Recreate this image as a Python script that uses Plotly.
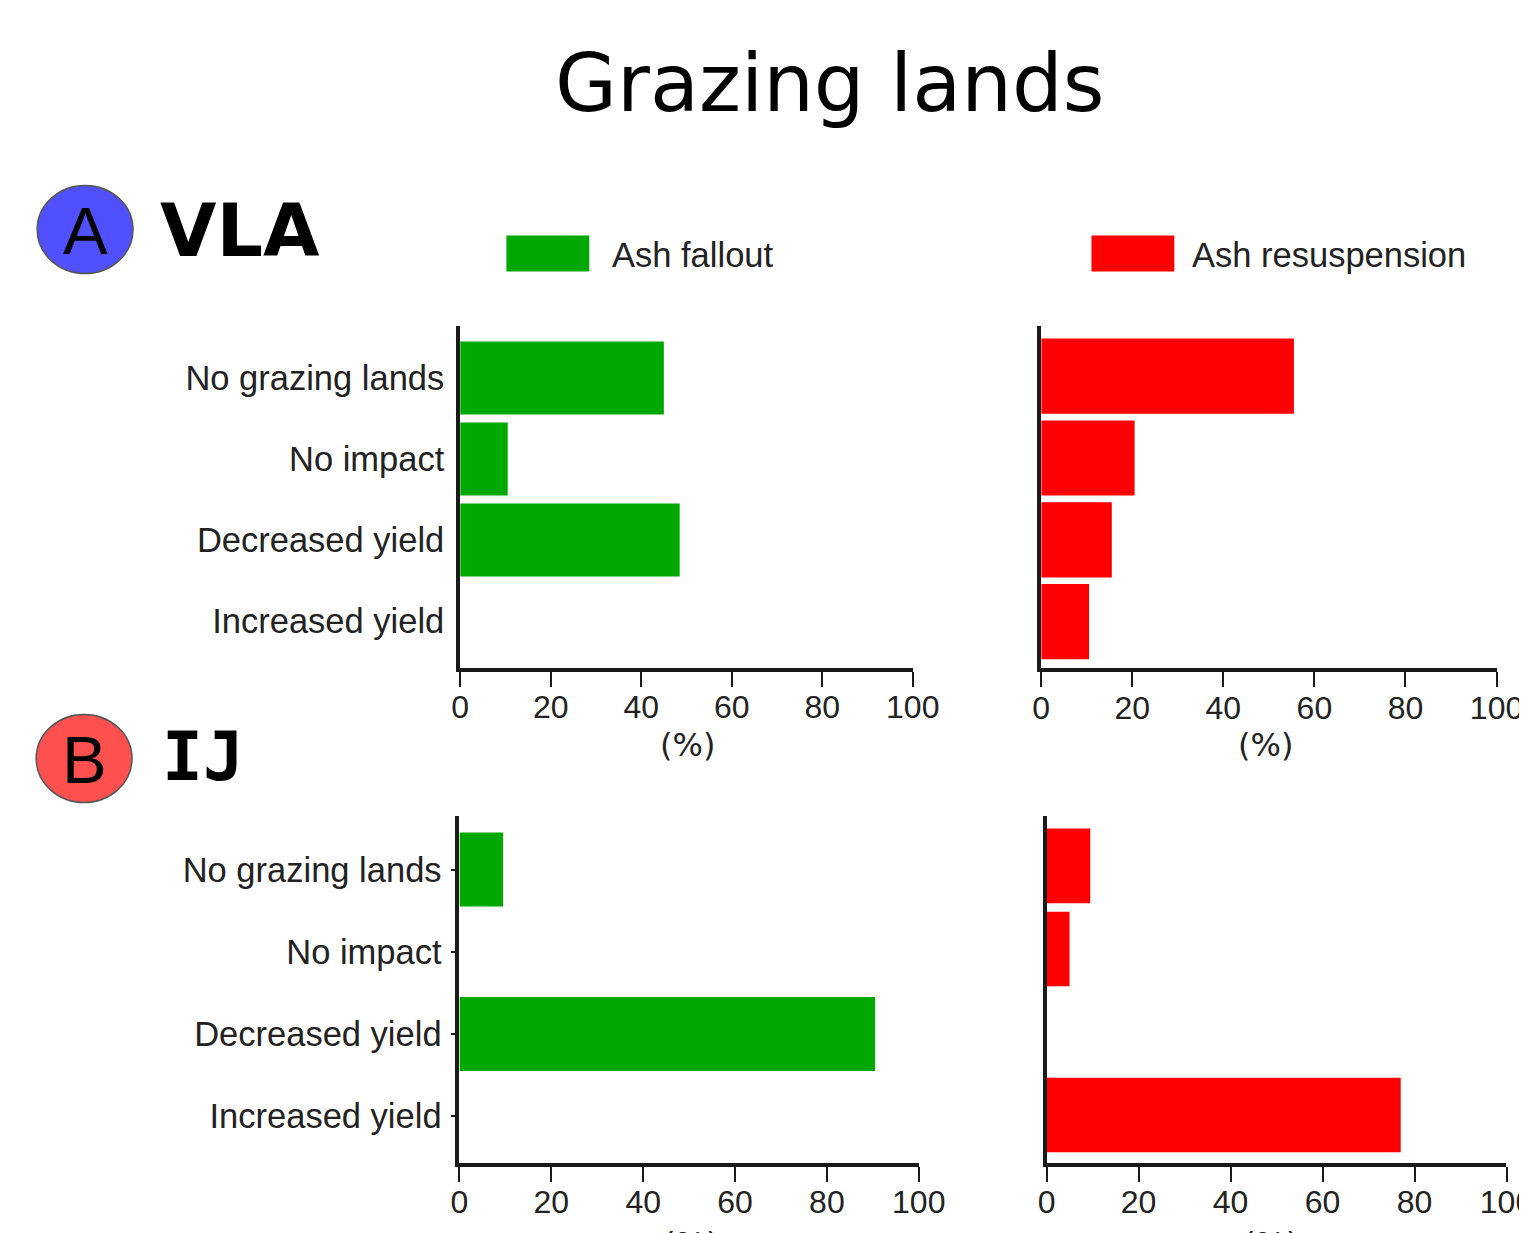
import plotly.graph_objects as go

W, H = 1527, 1233

categories = ["No grazing lands", "No impact", "Decreased yield", "Increased yield"]
x_ticks = [0, 20, 40, 60, 80, 100]

vla_fallout = [45, 10.5, 48.5, 0]
vla_resuspension = [55.5, 20.5, 15.5, 10.5]
ij_fallout = [9.5, 0, 90.5, 0]
ij_resuspension = [9.5, 5, 0, 77]

GREEN = "#00A800"
RED = "#FF0000"
AXC = "#1a1a1a"
TXT = "#222222"
SANS = "Liberation Sans, Arial, sans-serif"
DV = "DejaVu Sans, Verdana, sans-serif"

# empirical correction for how the page is captured
SX, CX, DY = 0.978, 763.5, 8.5


def px(x):
    return (CX + (x - CX) / SX) / W


def py(y):
    return 1 - (y - DY) / H


fig = go.Figure()

panels = [
    (vla_fallout, GREEN, "", 460.7, 914, 326, 668, [3.574, -0.648], 0.9, True, False),
    (vla_resuspension, RED, "2", 1042.7, 1498.7, 326, 668.7, [3.57, -0.62], 0.92, False, False),
    (ij_fallout, GREEN, "3", 460, 920, 816, 1163, [3.562, -0.657], 0.9, True, True),
    (ij_resuspension, RED, "4", 1048, 1508.7, 816, 1163, [3.572, -0.608], 0.9, False, False),
]

layout_axes = {}
for vals, col, k, x0, x1, yt, yb, yr, bw, showlab, ytk in panels:
    fig.add_trace(go.Bar(
        x=vals, y=categories, orientation="h", marker=dict(color=col, line=dict(width=0)),
        width=bw, xaxis="x" + k, yaxis="y" + k, showlegend=False,
    ))
    layout_axes["xaxis" + k] = dict(
        domain=[px(x0), px(x1)], range=[0, 100], anchor="y" + k,
        tickmode="array", tickvals=x_ticks, ticktext=[str(t) for t in x_ticks],
        showgrid=False, zeroline=False, showline=True, linecolor=AXC, linewidth=4,
        ticks="outside", ticklen=15, tickwidth=2, tickcolor=AXC,
        tickfont=dict(family=SANS, size=32, color=TXT), ticklabelstandoff=-7,
        fixedrange=True,
    )
    layout_axes["yaxis" + k] = dict(
        domain=[py(yb), py(yt)], range=yr, anchor="x" + k, type="category",
        categoryorder="array", categoryarray=categories,
        showgrid=False, zeroline=False, showline=True, linecolor=AXC, linewidth=4,
        showticklabels=showlab, ticks="outside" if ytk else "", ticklen=4, tickwidth=2,
        tickcolor=AXC, tickfont=dict(family=SANS, size=34.5, color=TXT),
        ticklabelstandoff=5 if not ytk else 3, fixedrange=True,
    )

shapes = [
    dict(type="rect", xref="paper", yref="paper", x0=px(507), x1=px(590), y0=py(272), y1=py(236),
         fillcolor=GREEN, line=dict(width=0)),
    dict(type="rect", xref="paper", yref="paper", x0=px(1093), x1=px(1176), y0=py(272), y1=py(236),
         fillcolor=RED, line=dict(width=0)),
    dict(type="circle", xref="paper", yref="paper", x0=px(37), x1=px(133), y0=py(274), y1=py(186),
         fillcolor="#5050FF", line=dict(color="#555555", width=1.5)),
    dict(type="circle", xref="paper", yref="paper", x0=px(36), x1=px(132), y0=py(803), y1=py(715),
         fillcolor="#FF5050", line=dict(color="#555555", width=1.5)),
]

annotations = [
    dict(text="Grazing lands", x=px(831), y=py(84), xanchor="center", yanchor="middle",
         font=dict(family=DV, size=80, color="black")),
    dict(text="Ash fallout", x=px(611), y=py(255), xanchor="left", yanchor="middle",
         font=dict(family=SANS, size=34.5, color=TXT)),
    dict(text="Ash resuspension", x=px(1192), y=py(255), xanchor="left", yanchor="middle",
         font=dict(family=SANS, size=34.5, color=TXT)),
    dict(text="A", x=px(85), y=py(231), xanchor="center", yanchor="middle",
         font=dict(family=SANS, size=67, color="black")),
    dict(text="<b>VLA</b>", x=px(158), y=py(231), xanchor="left", yanchor="middle",
         font=dict(family=DV, size=73, color="black")),
    dict(text="B", x=px(84), y=py(760), xanchor="center", yanchor="middle",
         font=dict(family=SANS, size=67, color="black")),
    dict(text="<b>IJ</b>", x=px(160), y=py(757), xanchor="left", yanchor="middle",
         font=dict(family="DejaVu Sans Mono, monospace", size=68, color="black")),
    dict(text="(%)", x=px(688), y=py(745), xanchor="center", yanchor="middle",
         font=dict(family=DV, size=32, color=TXT)),
    dict(text="(%)", x=px(1267), y=py(745), xanchor="center", yanchor="middle",
         font=dict(family=DV, size=32, color=TXT)),
    dict(text="(%)", x=px(691), y=py(1244), xanchor="center", yanchor="middle",
         font=dict(family=DV, size=32, color=TXT)),
    dict(text="(%)", x=px(1272), y=py(1244), xanchor="center", yanchor="middle",
         font=dict(family=DV, size=32, color=TXT)),
]
for a in annotations:
    a.update(xref="paper", yref="paper", showarrow=False)

fig.update_layout(
    width=W, height=H, margin=dict(l=0, r=0, t=0, b=0),
    paper_bgcolor="white", plot_bgcolor="white",
    shapes=shapes, annotations=annotations, bargap=0.1,
    **layout_axes,
)

fig.write_html("out.html")
